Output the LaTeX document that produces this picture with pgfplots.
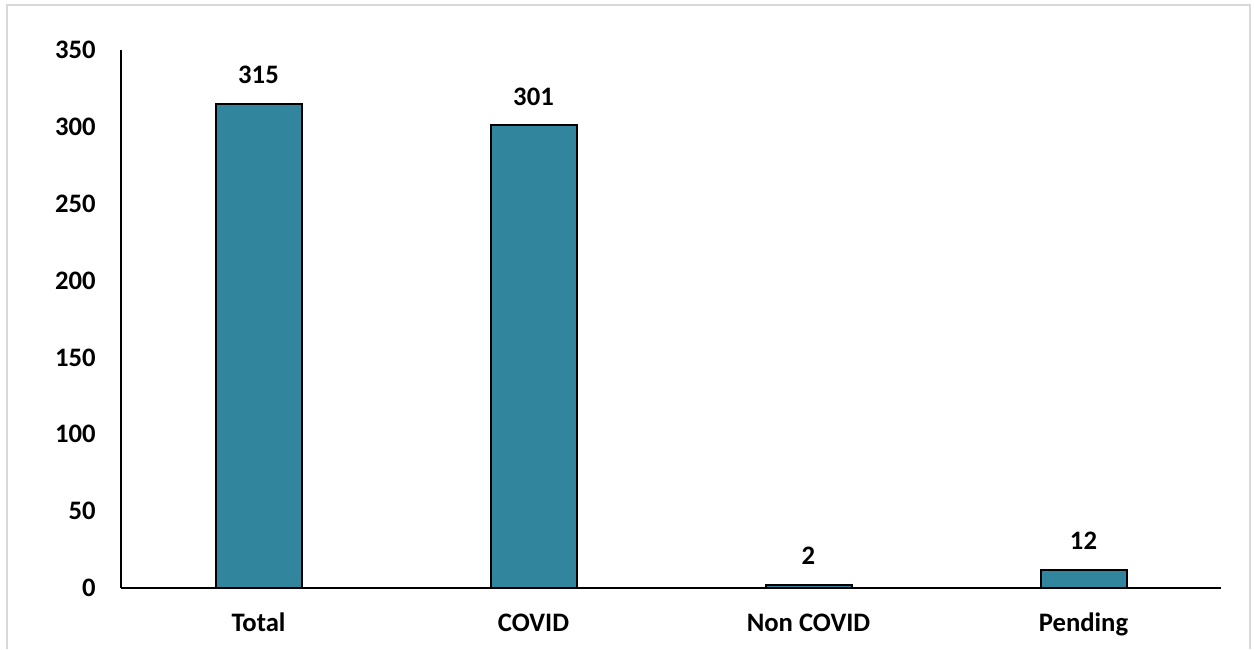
\documentclass[border=0pt]{standalone}
\usepackage{pgfplots}
\pgfplotsset{compat=1.18}
\usepackage{fontspec}
\setmainfont{Carlito}

\definecolor{barteal}{HTML}{31859C}
\definecolor{frame}{HTML}{D9D9D9}

\begin{document}
\begin{tikzpicture}
    % picture is 1254 x 649 px at 0.6pt per px
    \useasboundingbox (0,0) rectangle (752.4pt,389.4pt);
    % light outer frame, open at the bottom
    \draw[frame, line width=1.2pt] (4.2pt,0) -- (4.2pt,386.4pt) -- (750pt,386.4pt) -- (750pt,0);
    \begin{axis}[
        at={(72.6pt,36.6pt)}, anchor=south west,
        scale only axis,
        width=660pt, height=322.8pt,
        font=\bfseries\fontsize{16}{19}\selectfont,
        xmin=-0.5, xmax=3.5,
        ymin=0, ymax=350,
        xtick=data,
        xticklabels={Total, COVID, Non COVID, Pending},
        ytick={0,50,100,150,200,250,300,350},
        /pgf/number format/assume math mode=true,
        axis lines=left,
        axis line style={line width=1pt, -},
        major tick length=0pt,
        yticklabel style={anchor=east, inner sep=0pt, xshift=-15pt},
        xticklabel style={anchor=base, inner sep=0pt, yshift=-25.8pt},
        ybar, bar width=51.6pt,
        nodes near coords,
        every node near coord/.append style={anchor=south, inner sep=0pt, yshift=11.4pt, text=black},
        clip=false,
    ]
    \addplot[fill=barteal, draw=black, line width=1.2pt] coordinates {
        (0,315) (1,301) (2,2) (3,12)
    };
    \end{axis}
\end{tikzpicture}
\end{document}
